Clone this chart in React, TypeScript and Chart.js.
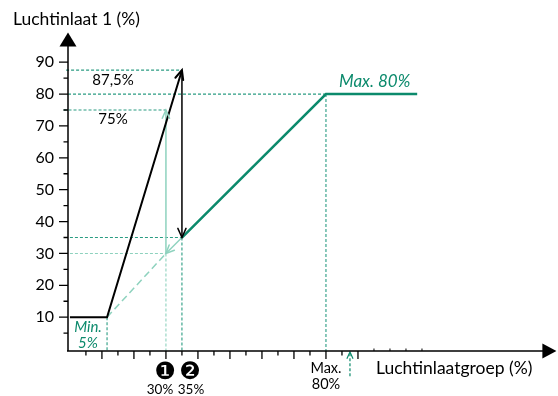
import React, { useEffect, useRef } from "react";
import { Chart, registerables } from "chart.js";

Chart.register(...registerables);

// ---- data (values in %) ----
const yTickValues = [10, 20, 30, 40, 50, 60, 70, 80, 90];
const yMinorTicks = [5, 15, 25, 35, 45, 55, 65, 75, 85];
const xMajorTicks = [10, 20, 30, 40, 50, 60, 70, 80, 90];
const xMinorTicks = [5, 15, 25, 35, 45, 55, 65, 75, 85];
const xFaintTicks = [95, 100, 105, 110];

const minPoint = 11.6; // position of "Min. 5%"

const blackRampX = [0, minPoint, 35];
const blackRampY = [10, 10, 87.5];
const blackDropX = [35, 35];
const blackDropY = [87.5, 35];
const tealLineX = [35, 80, 108.5];
const tealLineY = [35, 80, 80];
const lightDashX = [minPoint, 30];
const lightDashY = [10, 30];
const lightBackX = [35, 30];
const lightBackY = [35, 30];
const lightRiseX = [30, 30];
const lightRiseY = [30, 75];
const belowArrowX = [87.5, 87.5];
const belowArrowY = [-8.5, -0.9];

// guide lines
const guide875X = [-1.2, 35];
const guide875Y = [87.5, 87.5];
const guide80X = [-0.6, 80];
const guide80Y = [80, 80];
const guide75X = [-2, 30];
const guide75Y = [75, 75];
const guide35X = [0, 35];
const guide35Y = [35, 35];
const guide30X = [0, 30];
const guide30Y = [30, 30];
const vMinX = [minPoint, minPoint];
const vMinY = [10, -0.6];
const v30X = [30, 30];
const v30Y = [30, -0.6];
const v35X = [35, 35];
const v35Y = [35, -0.6];
const v80X = [80, 80];
const v80Y = [80, -0.6];

const yTitle = "Luchtinlaat 1 (%)";
const xTitle = "Luchtinlaatgroep (%)";

const zip = (xs: number[], ys: number[]) => xs.map((x, i) => ({ x, y: ys[i] }));

const BLACK = "#000000";
const TEAL = "#0c8a6c";
const GUIDE = "#2a9c82";
const LIGHT = "#8ed2be";
const FONT = "Lato, 'Open Sans', sans-serif";

const arrowPlugin = {
  id: "arrowHeads",
  afterDatasetsDraw(chart: any) {
    const ctx = chart.ctx;
    chart.data.datasets.forEach((ds: any, i: number) => {
      if (!ds.arrow) return;
      const meta = chart.getDatasetMeta(i);
      const pts = meta.data;
      const a = pts[pts.length - 2];
      const b = pts[pts.length - 1];
      const ang = Math.atan2(b.y - a.y, b.x - a.x);
      const len = ds.arrowLen || 10;
      const spread = 0.42;
      ctx.save();
      ctx.strokeStyle = ds.borderColor;
      ctx.lineWidth = ds.borderWidth;
      ctx.setLineDash([]);
      ctx.lineCap = "round";
      ctx.lineJoin = "miter";
      ctx.beginPath();
      ctx.moveTo(b.x - len * Math.cos(ang - spread), b.y - len * Math.sin(ang - spread));
      ctx.lineTo(b.x, b.y);
      ctx.lineTo(b.x - len * Math.cos(ang + spread), b.y - len * Math.sin(ang + spread));
      ctx.stroke();
      ctx.restore();
    });
  },
};

const axesPlugin = {
  id: "axesAndText",
  afterDatasetsDraw(chart: any) {
    const ctx = chart.ctx;
    const xs = chart.scales.x;
    const ys = chart.scales.y;
    const { left, bottom } = chart.chartArea;
    ctx.save();
    ctx.strokeStyle = BLACK;
    ctx.fillStyle = BLACK;
    ctx.lineWidth = 1.5;
    ctx.setLineDash([]);
    const yTop = ys.getPixelForValue(99.3);
    const xEnd = xs.getPixelForValue(152);
    // axes lines
    ctx.beginPath();
    ctx.moveTo(left, bottom);
    ctx.lineTo(left, yTop + 12);
    ctx.moveTo(left - 1, bottom);
    ctx.lineTo(xEnd - 12, bottom);
    ctx.stroke();
    // arrowheads
    ctx.beginPath();
    ctx.moveTo(left, yTop);
    ctx.lineTo(left - 8.5, yTop + 14);
    ctx.lineTo(left + 8.5, yTop + 14);
    ctx.closePath();
    ctx.fill();
    ctx.beginPath();
    ctx.moveTo(xEnd, bottom);
    ctx.lineTo(xEnd - 14, bottom - 7.5);
    ctx.lineTo(xEnd - 14, bottom + 7.5);
    ctx.closePath();
    ctx.fill();
    // ticks
    ctx.lineWidth = 1.3;
    ctx.beginPath();
    yTickValues.forEach((v) => {
      const p = ys.getPixelForValue(v);
      ctx.moveTo(left - 9, p);
      ctx.lineTo(left, p);
    });
    yMinorTicks.forEach((v) => {
      const p = ys.getPixelForValue(v);
      ctx.moveTo(left - 4.5, p);
      ctx.lineTo(left, p);
    });
    xMajorTicks.forEach((v) => {
      const p = xs.getPixelForValue(v);
      ctx.moveTo(p, bottom);
      ctx.lineTo(p, bottom + 8);
    });
    xMinorTicks.forEach((v) => {
      const p = xs.getPixelForValue(v);
      ctx.moveTo(p, bottom);
      ctx.lineTo(p, bottom + 4.5);
    });
    ctx.stroke();
    ctx.lineWidth = 1;
    ctx.beginPath();
    xFaintTicks.forEach((v) => {
      const p = xs.getPixelForValue(v);
      ctx.moveTo(p, bottom);
      ctx.lineTo(p, bottom - 2.5);
    });
    ctx.stroke();

    // y tick labels
    ctx.font = `16px ${FONT}`;
    ctx.textAlign = "right";
    ctx.textBaseline = "middle";
    yTickValues.forEach((v) => {
      ctx.fillText(String(v), left - 14, ys.getPixelForValue(v));
    });

    // titles
    ctx.font = `17.5px ${FONT}`;
    ctx.textAlign = "left";
    ctx.fillText(yTitle, 13, 19);
    ctx.fillText(xTitle, 376, 368);

    // value annotations
    ctx.font = `15px ${FONT}`;
    ctx.textAlign = "center";
    ctx.fillText("87,5%", 113, ys.getPixelForValue(87.5) + 10);
    ctx.fillText("75%", 113, ys.getPixelForValue(75) + 9);

    ctx.font = `14.5px ${FONT}`;
    ctx.fillText("Max.", xs.getPixelForValue(80), 368);
    ctx.fillText("80%", xs.getPixelForValue(80), 384);
    ctx.font = `13.5px ${FONT}`;
    ctx.fillText("30%", 160, 390);
    ctx.fillText("35%", 191, 390);

    ctx.font = `24px 'DejaVu Sans'`;
    ctx.fillText("\u2776", 165, 373);
    ctx.fillText("\u2777", 190, 373);

    ctx.fillStyle = TEAL;
    ctx.font = `italic 17px ${FONT}`;
    ctx.textAlign = "left";
    ctx.fillText("Max. 80%", 339, 82);
    ctx.font = `italic 15px ${FONT}`;
    ctx.textAlign = "center";
    ctx.fillText("Min.", 88, 327);
    ctx.fillText("5%", 88, 343);
    ctx.restore();
  },
};

export default function App() {
  const ref = useRef<HTMLCanvasElement>(null);
  useEffect(() => {
    if (!ref.current) return;
    const line = (xs: number[], ys: number[], color: string, width: number, extra: any = {}) => ({
      data: zip(xs, ys),
      borderColor: color,
      backgroundColor: color,
      borderWidth: width,
      pointRadius: 0,
      fill: false,
      tension: 0,
      clip: false,
      ...extra,
    });
    const guide = (xs: number[], ys: number[], color: string) =>
      line(xs, ys, color, 1.1, { borderDash: [3, 2] });
    const chart = new Chart(ref.current, {
      type: "line",
      data: {
        datasets: [
          line(blackRampX, blackRampY, BLACK, 2, { arrow: true, arrowLen: 10 }),
          line(blackDropX, blackDropY, BLACK, 1.5, { arrow: true, arrowLen: 10 }),
          line(tealLineX, tealLineY, TEAL, 2.5),
          line(lightBackX, lightBackY, LIGHT, 1.5, { arrow: true, arrowLen: 9 }),
          line(lightRiseX, lightRiseY, LIGHT, 1.5, { arrow: true, arrowLen: 9 }),
          line(lightDashX, lightDashY, LIGHT, 1.5, { borderDash: [7, 4] }),
          line(belowArrowX, belowArrowY, TEAL, 1.2, { borderDash: [3, 2], arrow: true, arrowLen: 7 }),
          guide(guide875X, guide875Y, GUIDE),
          guide(guide80X, guide80Y, GUIDE),
          guide(guide75X, guide75Y, GUIDE),
          guide(guide35X, guide35Y, GUIDE),
          guide(guide30X, guide30Y, LIGHT),
          guide(vMinX, vMinY, GUIDE),
          guide(v30X, v30Y, LIGHT),
          guide(v35X, v35Y, GUIDE),
          guide(v80X, v80Y, GUIDE),
        ] as any,
      },
      options: {
        animation: false,
        responsive: false,
        maintainAspectRatio: false,
        layout: { padding: { left: 68, right: 8, top: 36.7, bottom: 45 } },
        plugins: { legend: { display: false }, tooltip: { enabled: false } },
        scales: {
          x: { type: "linear", min: -0.6, max: 150, display: false },
          y: { type: "linear", min: -0.6, max: 98, display: false },
        },
      },
      plugins: [arrowPlugin, axesPlugin],
    });
    return () => chart.destroy();
  }, []);
  return (
    <div style={{ position: "fixed", left: 0, top: 0, width: 558, height: 396, background: "#fff" }}>
      <canvas ref={ref} width={558} height={396} style={{ width: 558, height: 396, display: "block" }} />
    </div>
  );
}
